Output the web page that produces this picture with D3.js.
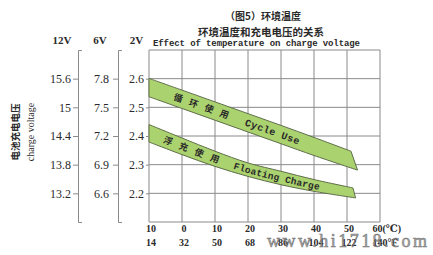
<!DOCTYPE html>
<html lang="zh">
<head>
<meta charset="UTF-8">
<title>环境温度和充电电压的关系</title>
<script src="https://d3js.org/d3.v7.min.js"></script>
<style>
    body { margin: 0; background: #fff; }
    svg { display: block; }
    .serif { font-family: "Liberation Serif", "DejaVu Serif", serif; fill: #2a2a2a; }
    .cjk { font-family: "Noto Sans CJK SC", sans-serif; fill: #2a2a2a; }
    .mono { font-family: "Liberation Mono", "DejaVu Sans Mono", monospace; fill: #2a2a2a; }
    .grid line { stroke: #8a8a8a; stroke-width: 1; }
    .axis path, .axis line { stroke: #8a8a8a; }
</style>
</head>
<body>
<div id="chart"></div>
<script>
// temperature grid (°C) and the labels underneath
const tempTicks = [-10, 0, 10, 20, 30, 40, 50, 60];
const celsiusLabels = ["10", "0", "10", "20", "30", "40", "50", "60(℃)"];
const fahrenheitLabels = ["14", "32", "50", "68", "86", "104", "122", "140°F"];

// voltage ticks for the three scales
const ticks2V = [2.2, 2.3, 2.4, 2.5, 2.6];
const ticks6V = [6.6, 6.9, 7.2, 7.5, 7.8];
const ticks12V = [13.2, 13.8, 14.4, 15, 15.6];

// band edges, volts per cell
const cycleHighT = [-10, 0, 10, 20, 30, 40, 51.2];
const cycleHigh = [2.601, 2.56, 2.519, 2.478, 2.437, 2.395, 2.347];
const cycleLowT = [-10, 0, 10, 20, 30, 40, 53.2];
const cycleLow = [2.537, 2.496, 2.455, 2.414, 2.373, 2.332, 2.281];

const floatHighT = [-10, 0, 10, 20, 30, 40, 51.8];
const floatHigh = [2.44, 2.393, 2.347, 2.306, 2.277, 2.248, 2.219];
const floatLowT = [-10, 0, 10, 20, 30, 40, 52.6];
const floatLow = [2.379, 2.335, 2.294, 2.259, 2.23, 2.207, 2.184];

const W = 433, H = 255;

const svg = d3.select("#chart").append("svg")
    .attr("width", W)
    .attr("height", H);

const x = d3.scaleLinear().domain([-10, 60]).range([149, 380]);
const y = d3.scaleLinear().domain([2.1, 2.7]).range([222, 50]);
const y6 = d3.scaleLinear().domain([6.3, 8.1]).range([222, 50]);
const y12 = d3.scaleLinear().domain([12.6, 16.2]).range([222, 50]);

// grid
const grid = svg.append("g").attr("class", "grid");
grid.selectAll(".v").data(tempTicks).enter().append("line")
    .attr("x1", d => x(d)).attr("x2", d => x(d))
    .attr("y1", y(2.7)).attr("y2", y(2.1));
grid.selectAll(".h").data([2.1, ...ticks2V, 2.7]).enter().append("line")
    .attr("x1", x(-10)).attr("x2", x(60))
    .attr("y1", d => y(d)).attr("y2", d => y(d));

// bands
const line = d3.line()
    .x(d => x(d[0]))
    .y(d => y(d[1]))
    .curve(d3.curveCatmullRom.alpha(0.5));

function bandPath(ht, hv, lt, lv) {
    const up = ht.map((t, i) => [t, hv[i]]);
    const low = lt.map((t, i) => [t, lv[i]]).reverse();
    return line(up) + "L" + line(low).slice(1) + "Z";
}

function midPoints(ht, hv, lt, lv) {
    return ht.map((t, i) => [(t + lt[i]) / 2, (hv[i] + lv[i]) / 2]);
}

svg.append("path")
    .attr("d", bandPath(cycleHighT, cycleHigh, cycleLowT, cycleLow))
    .attr("fill", "#aad26e")
    .attr("stroke", "#5f6e4a")
    .attr("stroke-width", 1);

svg.append("path")
    .attr("d", bandPath(floatHighT, floatHigh, floatLowT, floatLow))
    .attr("fill", "#aad26e")
    .attr("stroke", "#5f6e4a")
    .attr("stroke-width", 1);

const defs = svg.append("defs");
defs.append("path").attr("id", "midCycle")
    .attr("d", line(midPoints(cycleHighT, cycleHigh, cycleLowT, cycleLow)));
defs.append("path").attr("id", "midFloat")
    .attr("d", line(midPoints(floatHighT, floatHigh, floatLowT, floatLow)));

// length along a path up to a given x
function offsetAtX(id, px) {
    const p = document.getElementById(id);
    const total = p.getTotalLength();
    let lo = 0, hi = total;
    for (let i = 0; i < 30; i++) {
        const m = (lo + hi) / 2;
        if (p.getPointAtLength(m).x < px) lo = m; else hi = m;
    }
    return lo;
}

function bandLabel(id, txt, px, cls, size, spacing, weight) {
    svg.append("text")
        .attr("class", cls)
        .style("font-size", size + "px")
        .style("font-weight", weight)
        .style("letter-spacing", spacing + "px")
        .attr("dy", "0.35em")
        .append("textPath")
        .attr("href", "#" + id)
        .attr("startOffset", offsetAtX(id, px))
        .text(txt);
}

bandLabel("midCycle", "循环使用", 174, "cjk", 9, 7.3, 700);
bandLabel("midCycle", "Cycle Use", 245.5, "mono", 10, 0.4, 700);
bandLabel("midFloat", "浮充使用", 164, "cjk", 9, 7.6, 700);
bandLabel("midFloat", "Floating Charge", 234, "mono", 9.5, 0.2, 700);

// voltage axes
function styleAxis(g) {
    g.selectAll("text")
        .attr("class", "serif")
        .style("font-size", "12px")
        .attr("fill", "#2a2a2a");
}

svg.append("g").attr("class", "axis")
    .attr("transform", `translate(${x(-10)},0)`)
    .call(d3.axisLeft(y).tickValues(ticks2V).tickSize(3).tickPadding(2)
        .tickSizeOuter(0).tickFormat(d3.format(".1f")))
    .call(g => g.select(".domain").remove())
    .call(styleAxis);

svg.append("g").attr("class", "axis")
    .attr("transform", "translate(118,0)")
    .call(d3.axisLeft(y6).tickValues(ticks6V).tickSize(5).tickPadding(4)
        .tickSizeOuter(-4).tickFormat(d3.format(".1f")))
    .call(styleAxis);

svg.append("g").attr("class", "axis")
    .attr("transform", "translate(78,0)")
    .call(d3.axisLeft(y12).tickValues(ticks12V).tickSize(5).tickPadding(2)
        .tickSizeOuter(-4).tickFormat(d => d))
    .call(styleAxis);

svg.selectAll(".axis path, .axis line").attr("stroke", "#8a8a8a");

// headers over the axes
[["12V", 62], ["6V", 100], ["2V", 136.5]].forEach(([t, cx]) => {
    svg.append("text").attr("class", "serif")
        .attr("x", cx).attr("y", 44)
        .attr("text-anchor", "middle")
        .style("font-size", "11px").style("font-weight", 700)
        .text(t);
});

// temperature labels
svg.selectAll(".cel").data(tempTicks).enter().append("text")
    .attr("class", "serif")
    .attr("x", (d, i) => i === tempTicks.length - 1 ? x(d) - 7.5 : x(d) + 2)
    .attr("y", 231.5)
    .attr("text-anchor", (d, i) => i === tempTicks.length - 1 ? "start" : "middle")
    .style("font-size", "10px").style("font-weight", 700)
    .text((d, i) => celsiusLabels[i]);

svg.selectAll(".fah").data(tempTicks).enter().append("text")
    .attr("class", "serif")
    .attr("x", (d, i) => i === tempTicks.length - 1 ? x(d) - 7.5 : x(d) + 2)
    .attr("y", 246)
    .attr("text-anchor", (d, i) => i === tempTicks.length - 1 ? "start" : "middle")
    .style("font-size", "10px").style("font-weight", 700)
    .text((d, i) => fahrenheitLabels[i]);

// titles
svg.append("text").attr("class", "cjk")
    .attr("x", 263).attr("y", 20).attr("text-anchor", "middle")
    .style("font-size", "10px").style("font-weight", 700)
    .text("（图5）环境温度");
svg.append("text").attr("class", "cjk")
    .attr("x", 261).attr("y", 35.5).attr("text-anchor", "middle")
    .style("font-size", "10.5px").style("font-weight", 700)
    .text("环境温度和充电电压的关系");
svg.append("text").attr("class", "mono")
    .attr("x", 153).attr("y", 45.5)
    .attr("textLength", 207)
    .style("font-size", "9px").style("font-weight", 700)
    .text("Effect of temperature on charge voltage");

// y title
svg.append("text").attr("class", "cjk")
    .attr("transform", "translate(18.5,132) rotate(-90)")
    .attr("text-anchor", "middle")
    .style("font-size", "9.5px").style("font-weight", 700)
    .text("电池充电电压");
svg.append("text").attr("class", "serif")
    .attr("transform", "translate(33.5,132) rotate(-90)")
    .attr("text-anchor", "middle")
    .style("font-size", "10px")
    .text("charge voltage");

// watermark
svg.append("text")
    .attr("x", 267).attr("y", 247)
    .attr("textLength", 160)
    .style("font-family", "Liberation Serif, serif")
    .style("font-size", "18px")
    .attr("fill", "#9a9a9a")
    .attr("stroke", "#555")
    .attr("stroke-width", 0.5)
    .attr("opacity", 0.85)
    .text("www.hi1718.com");
</script>
</body>
</html>
